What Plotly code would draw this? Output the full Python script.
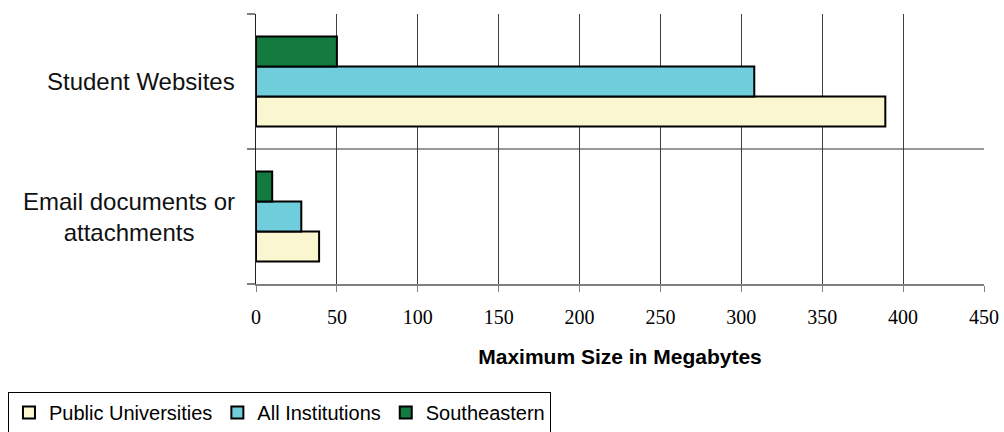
import plotly.graph_objects as go

# Categories, listed bottom to top
categories = ["Email documents or attachments", "Student Websites"]
category_labels = ["Email documents or<br>attachments", "Student Websites"]

# Maximum size in megabytes for each group
public_universities = [39, 389]
all_institutions = [28, 308]
southeastern = [10, 50]

x_ticks = [0, 50, 100, 150, 200, 250, 300, 350, 400, 450]

series = [
    ("Public Universities", public_universities, "#FAF7D0"),
    ("All Institutions", all_institutions, "#70CDDB"),
    ("Southeastern", southeastern, "#137B3F"),
]

fig = go.Figure()
for name, values, color in series:
    fig.add_trace(go.Bar(
        name=name,
        x=values,
        y=categories,
        orientation="h",
        marker=dict(color=color, line=dict(color="#000000", width=2)),
    ))

# Category labels, centred on each band and right-aligned against the axis
for cat, label in zip(categories, category_labels):
    fig.add_annotation(
        x=-0.026, xref="paper", xanchor="right",
        y=cat, yref="y", yanchor="middle",
        text=label, showarrow=False, align="center",
        font=dict(family="Liberation Sans, Arial, sans-serif", size=24, color="#111111"),
    )

# Divider between the two category bands
fig.add_shape(
    type="line", xref="paper", x0=0, x1=1, yref="y", y0=0.5, y1=0.5,
    line=dict(color="#333333", width=1),
)

fig.update_layout(
    width=1004, height=432,
    margin=dict(l=256, r=20, t=14, b=148, autoexpand=False),
    paper_bgcolor="white", plot_bgcolor="white",
    barmode="group", bargap=0.333, bargroupgap=0,
    showlegend=True,
    legend=dict(
        orientation="h",
        x=-0.3407, xanchor="left", y=-0.40, yanchor="top",
        bordercolor="#000000", borderwidth=1, bgcolor="white",
        font=dict(family="Liberation Sans, Arial, sans-serif", size=20, color="#000000"),
        traceorder="normal", itemwidth=30,
    ),
    xaxis=dict(
        range=[0, 450], tickvals=x_ticks, ticktext=[str(v) for v in x_ticks],
        showgrid=True, gridcolor="#404040", gridwidth=1,
        showline=True, linecolor="#808080", linewidth=2,
        ticks="outside", ticklen=6, tickcolor="#808080", tickwidth=1,
        ticklabelstandoff=8,
        tickfont=dict(family="Liberation Serif, Times New Roman, serif", size=20, color="#000000"),
        zeroline=False, automargin=False,
        title=dict(
            text="<b>Maximum Size in Megabytes</b>",
            font=dict(family="Liberation Sans, Arial, sans-serif", size=21, color="#000000"),
            standoff=22,
        ),
    ),
    yaxis=dict(
        categoryorder="array", categoryarray=categories,
        range=[-0.5, 1.5],
        showgrid=False, zeroline=False, automargin=False,
        showline=True, linecolor="#222222", linewidth=1,
        ticks="outside", tickson="boundaries", ticklen=8, tickcolor="#808080", tickwidth=2,
        showticklabels=False,
    ),
)

fig.write_html("out.html")
